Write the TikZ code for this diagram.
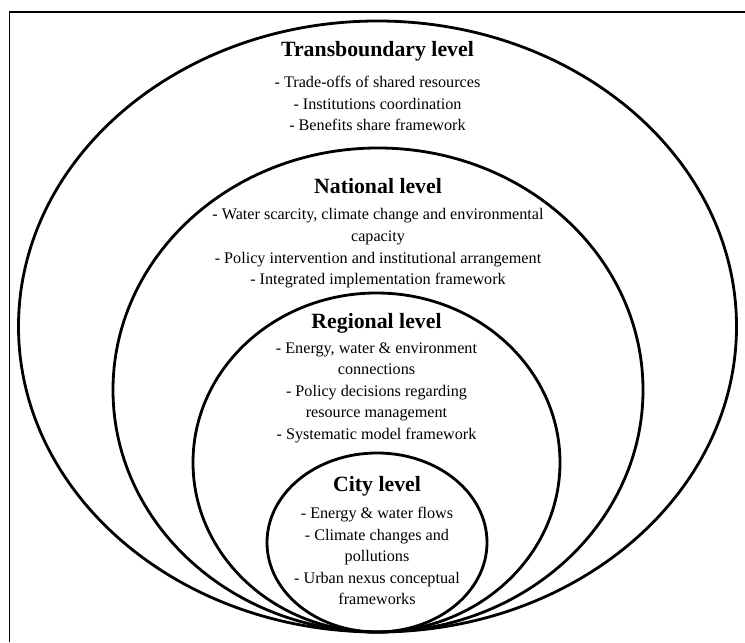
\documentclass[tikz,border=0pt]{standalone}
\usepackage{fontspec}
\setmainfont{Liberation Serif}
\usetikzlibrary{positioning, shapes.geometric}

\begin{document}
\begin{tikzpicture}[
    level/.style={draw=black, ellipse, line width=2pt, inner sep=0pt},
    title/.style={font=\fontsize{15.5}{18}\selectfont\bfseries, inner sep=0pt},
    items/.style={font=\fontsize{11.5}{15.3}\selectfont, align=center, inner sep=0pt},
    frame/.style={line width=1.4pt, black},
]
\useasboundingbox (0,0) rectangle (18.625,16.05);

% ============ marco ============
\coordinate (fb) at (0.2375,0);
\coordinate (fc) at (0.2375,15.75);
\coordinate (fr) at (18.625,15.75);
\draw[frame] (fb) -- (fc) -- (fr);

% ============ elipses (tangentes abajo) ============
\node[level, minimum width=17.95cm, minimum height=15.275cm] (trans) at (9.4375,7.8875) {};
\node[level, minimum width=13.25cm, minimum height=12.1cm]   (nat)   at (9.45,6.3)      {};
\node[level, minimum width=9.175cm, minimum height=8.475cm]  (reg)   at (9.4125,4.4875) {};
\node[level, minimum width=5.5cm,   minimum height=4.475cm]  (city)  at (9.425,2.4875)  {};

% ============ textos ============
\node[title, below=0.55cm of trans.north] (transT) {Transboundary level};
\node[items, below=0.35cm of transT] (transB)
    {- Trade-offs of shared resources\\- Institutions coordination\\- Benefits share framework};

\node[title, below=0.8cm of nat.north] (natT) {National level};
\node[items, below=0.35cm of natT] (natB)
    {- Water scarcity, climate change and environmental\\capacity\\
     - Policy intervention and institutional arrangement\\- Integrated implementation framework};

\node[title, below=0.55cm of reg.north] (regT) {Regional level};
\node[items, below=0.2cm of regT] (regB)
    {- Energy, water \& environment\\connections\\- Policy decisions regarding\\
     resource management\\- Systematic model framework};

\node[title, below=0.625cm of city.north] (cityT) {City level};
\node[items, below=0.25cm of cityT] (cityB)
    {- Energy \& water flows\\- Climate changes and\\pollutions\\
     - Urban nexus conceptual\\frameworks};

\end{tikzpicture}
\end{document}
